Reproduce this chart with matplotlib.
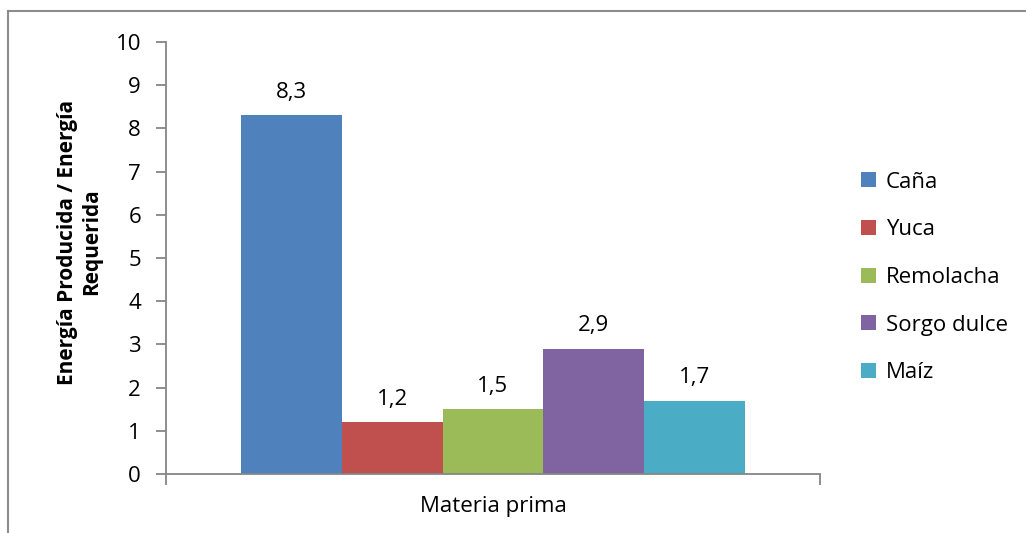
import matplotlib.pyplot as plt
from matplotlib.lines import Line2D

plt.rcParams['font.family'] = ['Open Sans', 'DejaVu Sans']

series = ['Caña', 'Yuca', 'Remolacha', 'Sorgo dulce', 'Maíz']
values = [8.3, 1.2, 1.5, 2.9, 1.7]
labels = ['8,3', '1,2', '1,5', '2,9', '1,7']
colors = ['#4F81BD', '#C0504D', '#9BBB59', '#8064A2', '#4BACC6']

fig = plt.figure(figsize=(10.26, 5.33), dpi=100)
ax = fig.add_axes([0.1618, 0.1107, 0.6374, 0.8105])

w = 0.154
x0 = -2 * w
for i, (s, v, c) in enumerate(zip(series, values, colors)):
    xi = x0 + i * w
    ax.bar(xi, v, width=w, color=c, label=s)
    ax.annotate(labels[i], (xi, v), xytext=(0, 9), textcoords='offset points',
                ha='center', va='bottom', fontsize=16)

ax.set_xlim(-0.5, 0.5)
ax.set_ylim(0, 10)
ax.set_yticks(range(0, 11))
ax.set_xticks([-0.5, 0.5])
ax.set_xticklabels(['', ''])
ax.tick_params(axis='y', length=7, width=1.3, color='#868686', labelsize=16, pad=11)
ax.tick_params(axis='x', length=8, width=1.3, color='#868686')
for sp in ['top', 'right']:
    ax.spines[sp].set_visible(False)
for sp in ['left', 'bottom']:
    ax.spines[sp].set_color('#868686')
    ax.spines[sp].set_linewidth(1.3)

ax.set_xlabel('Materia prima', fontsize=16, labelpad=4)
ax.set_ylabel('Energía Producida / Energía\nRequerida', fontsize=15,
              fontweight='bold')
ax.yaxis.set_label_coords(-0.098, 0.537)

ax.legend(loc='center left', bbox_to_anchor=(1.032, 0.455), frameon=False,
          fontsize=16, handlelength=0.68, handleheight=0.68, labelspacing=1.2,
          handletextpad=0.45)

# outer chart border (top and left only visible)
fig.add_artist(Line2D([0.0078, 1.0], [0.979, 0.979], color='#8c8c8c', lw=1.5,
                      transform=fig.transFigure))
fig.add_artist(Line2D([0.0078, 0.0078], [0.0, 0.979], color='#8c8c8c', lw=1.5,
                      transform=fig.transFigure))

fig.savefig('out.png', dpi=100)
